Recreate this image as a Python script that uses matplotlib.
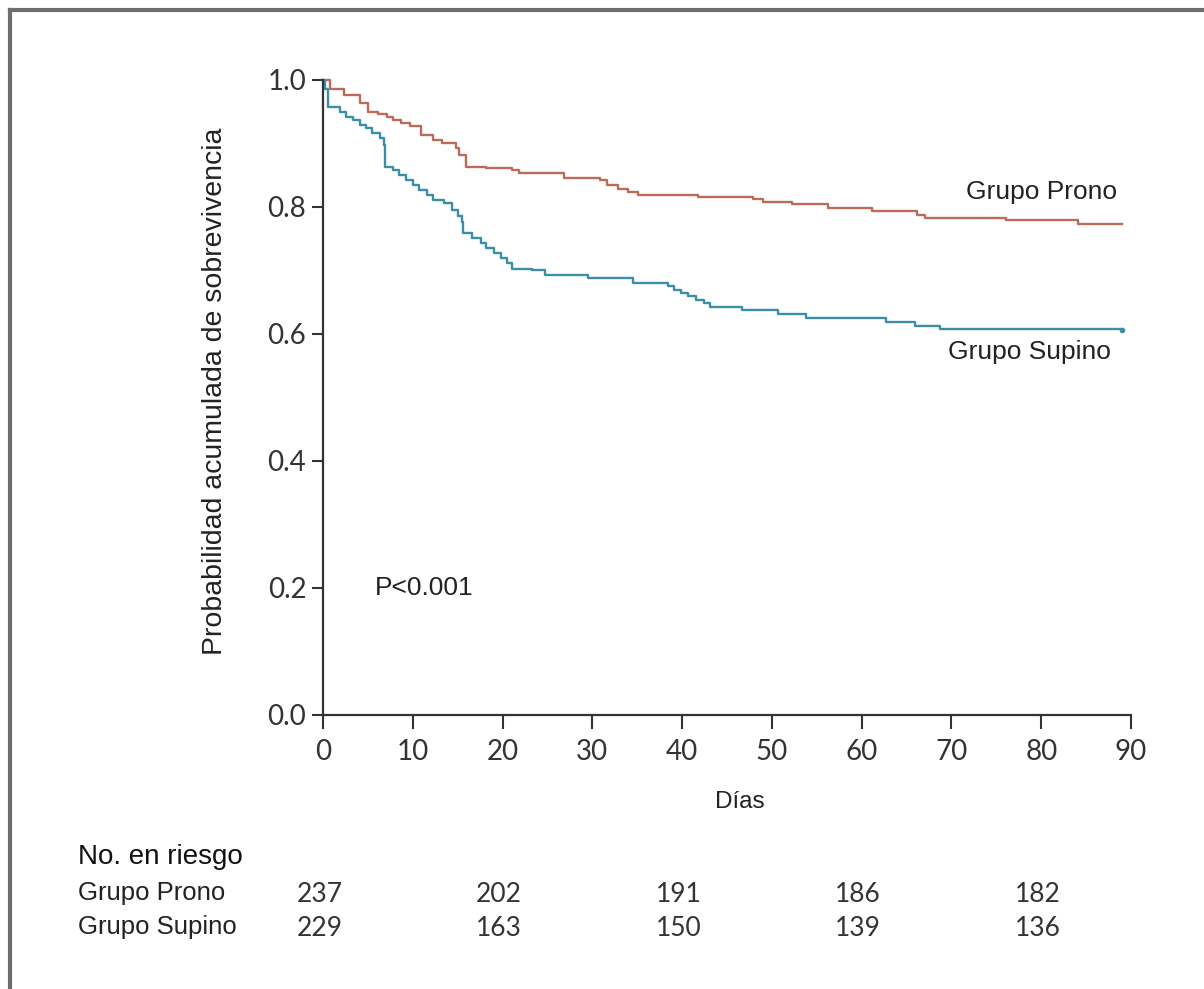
import matplotlib
matplotlib.use("Agg")
import matplotlib.pyplot as plt
from matplotlib.lines import Line2D
from matplotlib.transforms import blended_transform_factory

# curvas de Kaplan-Meier (dias, probabilidad)
prono_t = [0, 0.8, 2.3, 4.1, 5.0, 6.1, 7.1, 7.8, 8.7, 9.7, 10.9, 12.2, 13.3, 14.8, 15.2, 15.9,
           18.2, 21.1, 21.8, 26.8, 30.9, 31.6, 32.9, 34.0, 35.1, 41.8, 47.9, 49.0, 52.2, 56.2,
           61.2, 66.2, 67.0, 76.1, 84.1, 89]
prono_s = [1.0, 0.985, 0.976, 0.963, 0.950, 0.946, 0.942, 0.937, 0.932, 0.927, 0.913, 0.906,
           0.900, 0.892, 0.882, 0.863, 0.861, 0.858, 0.854, 0.845, 0.842, 0.835, 0.829, 0.824,
           0.819, 0.816, 0.812, 0.808, 0.805, 0.798, 0.794, 0.787, 0.782, 0.780, 0.773, 0.773]

supino_t = [0, 0.2, 0.5, 1.9, 2.6, 3.3, 4.1, 4.8, 5.5, 6.3, 6.8, 6.9, 7.8, 8.5, 9.2, 10.0,
            10.7, 11.6, 12.2, 13.5, 14.4, 15.0, 15.5, 15.6, 16.6, 17.6, 18.2, 19.0, 19.8, 20.5,
            21.1, 23.3, 24.7, 29.5, 34.5, 38.4, 39.1, 39.9, 40.6, 41.5, 42.4, 43.1, 46.7, 50.7,
            53.8, 62.7, 65.9, 68.7, 89]
supino_s = [1.0, 0.985, 0.958, 0.950, 0.942, 0.937, 0.929, 0.924, 0.917, 0.908, 0.898, 0.863,
            0.858, 0.850, 0.843, 0.835, 0.827, 0.819, 0.811, 0.806, 0.795, 0.785, 0.777, 0.759,
            0.751, 0.743, 0.735, 0.727, 0.719, 0.711, 0.703, 0.700, 0.693, 0.688, 0.680, 0.675,
            0.669, 0.664, 0.660, 0.654, 0.648, 0.643, 0.637, 0.631, 0.625, 0.618, 0.613, 0.608,
            0.606]

# tabla de numero en riesgo
riesgo_dias = [0, 20, 40, 60, 80]
riesgo_prono = [237, 202, 191, 186, 182]
riesgo_supino = [229, 163, 150, 139, 136]

x_ticks = [0, 10, 20, 30, 40, 50, 60, 70, 80, 90]
y_ticks = [0.0, 0.2, 0.4, 0.6, 0.8, 1.0]

rojo = "#bb6b58"
azul = "#3b8ea6"
gris = "#333333"
sans = "Liberation Sans"
num = "Lato"

fig = plt.figure(figsize=(12.04, 9.89), dpi=100)
ax = fig.add_axes([0.2683, 0.2771, 0.6711, 0.6421])

ax.step(prono_t, prono_s, where="post", color=rojo, lw=1.7, clip_on=False)
ax.step(supino_t, supino_s, where="post", color=azul, lw=1.7, clip_on=False)
ax.plot(supino_t[-1], supino_s[-1], "o", color=azul, ms=3, clip_on=False)

ax.set_xlim(0, 90)
ax.set_ylim(0, 1.0)
ax.set_xticks(x_ticks)
ax.set_yticks(y_ticks)
ax.set_xticklabels([str(v) for v in x_ticks], fontfamily=num, fontsize=20, color=gris)
ax.set_yticklabels(["%.1f" % v for v in y_ticks], fontfamily=num, fontsize=20, color=gris)
ax.tick_params(axis="y", direction="out", length=8, width=1.5, color=gris, pad=4)
ax.tick_params(axis="x", direction="out", length=10, width=1.5, color=gris, pad=7)

for lado in ["top", "right"]:
    ax.spines[lado].set_visible(False)
for lado in ["left", "bottom"]:
    ax.spines[lado].set_color(gris)
    ax.spines[lado].set_linewidth(1.6)

ax.set_ylabel("Probabilidad acumulada de sobrevivencia", fontfamily=sans, fontsize=20.5,
              color="#222222")
ax.yaxis.set_label_coords(-0.117, 0.51)
ax.set_xlabel("Días", fontfamily=sans, fontsize=17.5, color="#222222")
ax.xaxis.set_label_coords((740 - 323) / 808, -(802 - 715) / 635)
ax.xaxis.label.set_va("center")

ax.text(71.6, 0.823, "Grupo Prono", fontfamily=sans, fontsize=19, color="#222222", va="center")
ax.text(69.6, 0.572, "Grupo Supino", fontfamily=sans, fontsize=19, color="#222222", va="center")
ax.text(5.8, 0.2, "P<0.001", fontfamily=sans, fontsize=19, color="#222222", va="center")

# tabla debajo del grafico
fig.text(78 / 1204, 1 - 857 / 989, "No. en riesgo", fontfamily=sans, fontsize=20,
         color="#111111", va="center")
fig.text(78 / 1204, 1 - 893 / 989, "Grupo Prono", fontfamily=sans, fontsize=18.5,
         color="#222222", va="center")
fig.text(78 / 1204, 1 - 927 / 989, "Grupo Supino", fontfamily=sans, fontsize=18.5,
         color="#222222", va="center")
mixto = blended_transform_factory(ax.transData, fig.transFigure)
for d, a, b in zip(riesgo_dias, riesgo_prono, riesgo_supino):
    ax.text(d - 0.4, 1 - 895 / 989, str(a), transform=mixto,
            fontfamily=num, fontsize=19, color=gris, ha="center", va="center")
    ax.text(d - 0.4, 1 - 929 / 989, str(b), transform=mixto,
            fontfamily=num, fontsize=19, color=gris, ha="center", va="center")

# marco gris de la imagen
fig.add_artist(Line2D([10 / 1204, 10 / 1204], [0, 1 - 10 / 989], transform=fig.transFigure,
                      color="#6e6e6e", lw=3))
fig.add_artist(Line2D([10 / 1204, 1], [1 - 10 / 989, 1 - 10 / 989], transform=fig.transFigure,
                      color="#6e6e6e", lw=3))

fig.savefig("out.png", dpi=100)
